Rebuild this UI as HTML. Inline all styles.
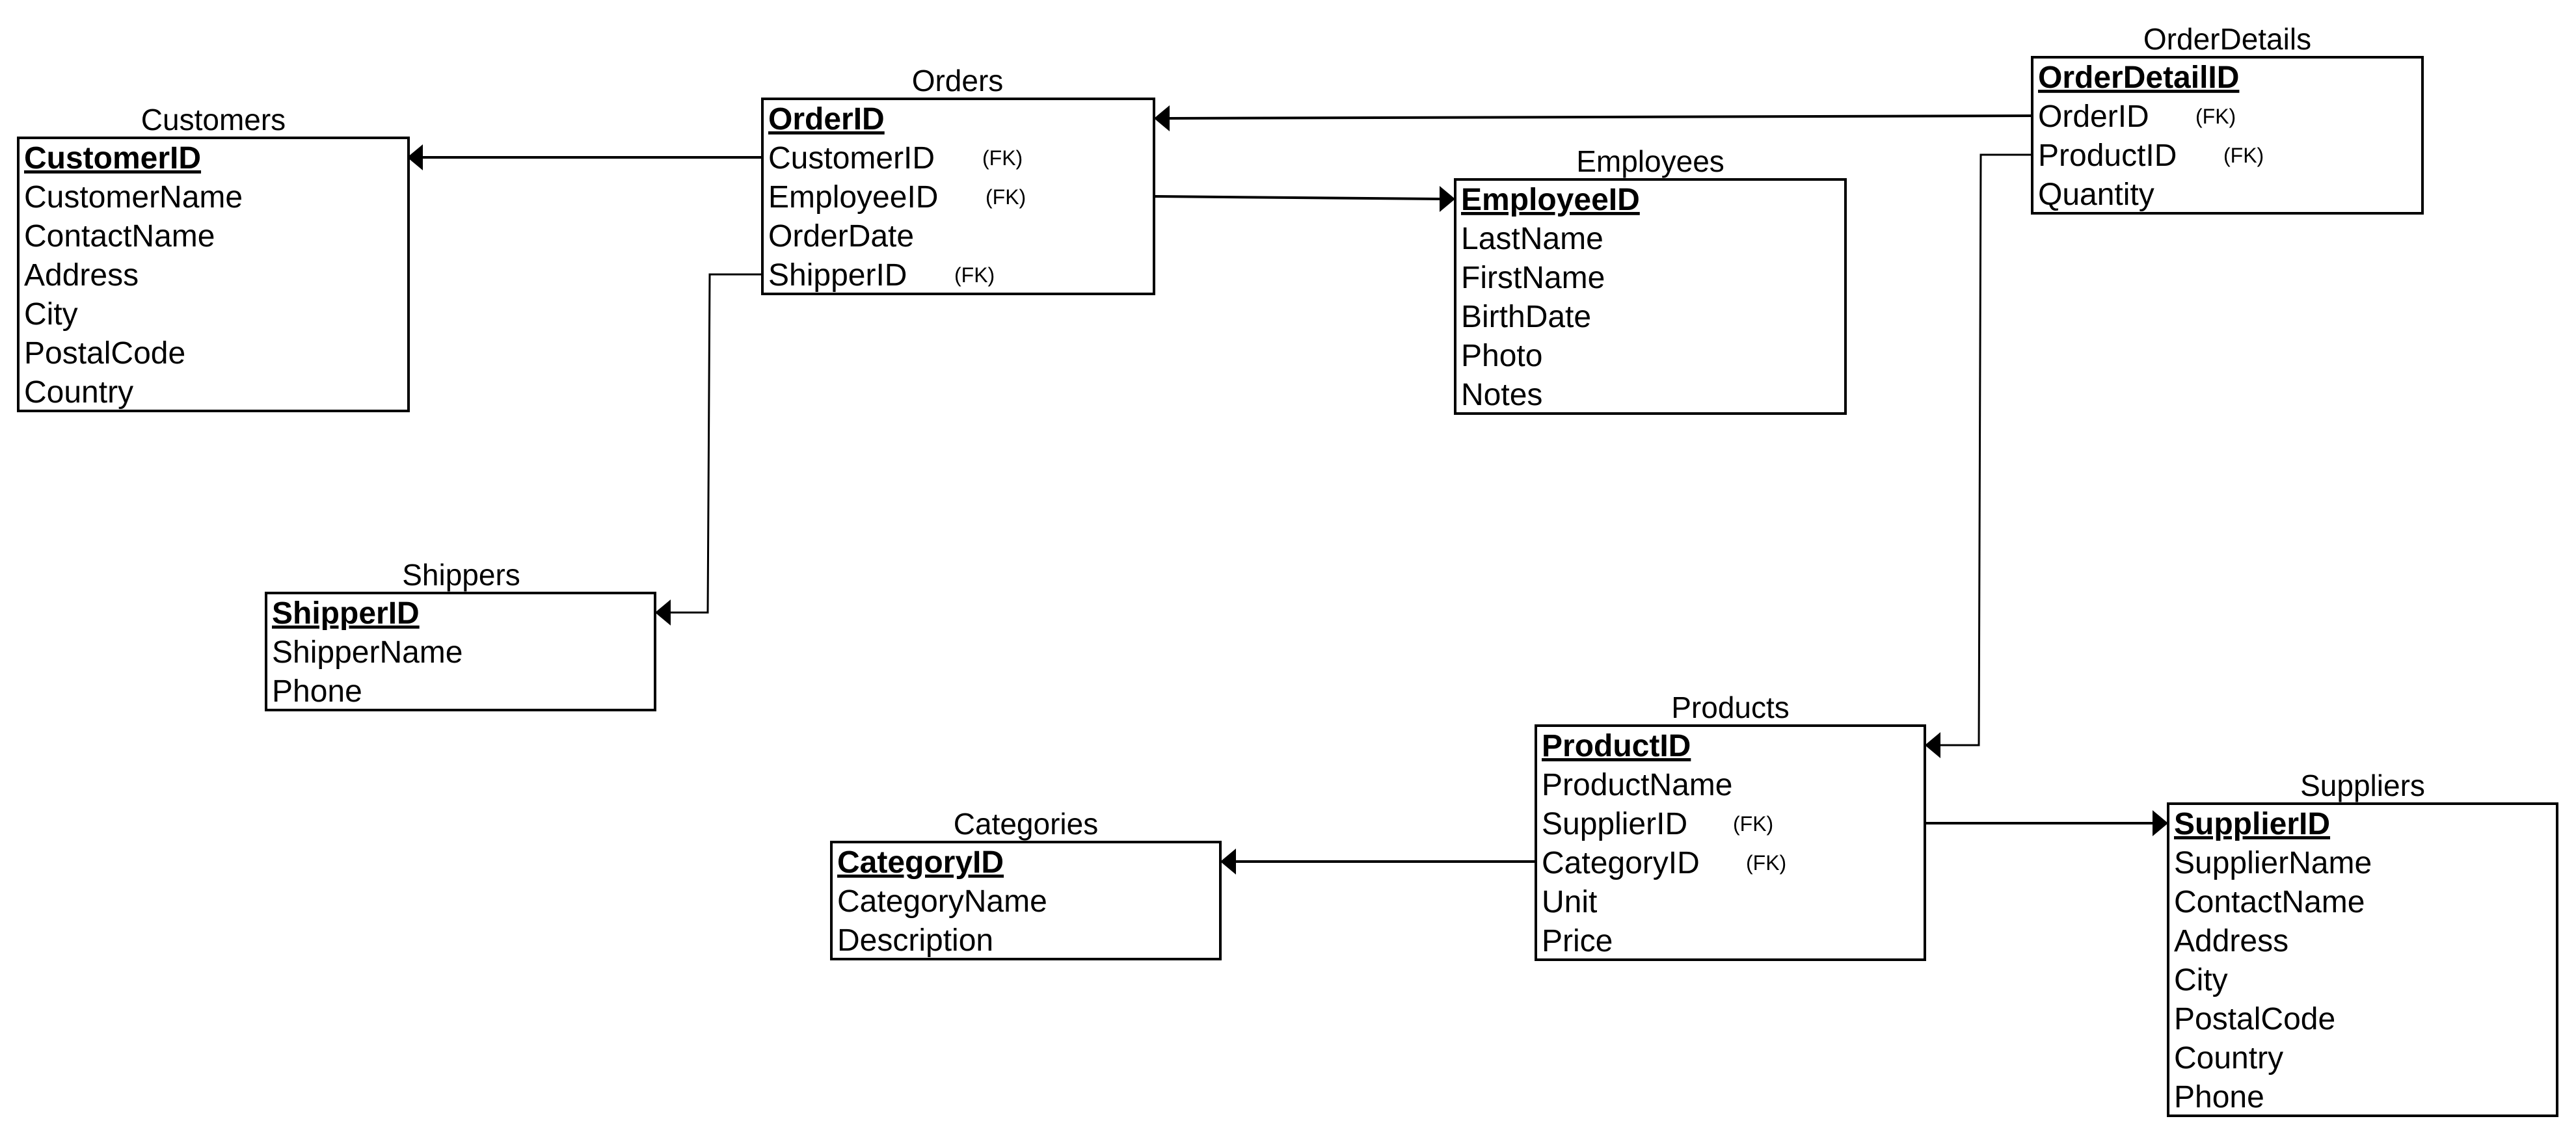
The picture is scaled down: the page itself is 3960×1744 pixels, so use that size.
<!DOCTYPE html>
<html><head><meta charset="utf-8"><style>
html,body{margin:0;padding:0;background:#fff;}
svg{display:block;}
text{font-family:"Liberation Sans",Arial,sans-serif;fill:#000;}
.t{font-size:46px;text-anchor:middle;}
.r{font-size:48px;}
.pk{font-size:48px;font-weight:bold;text-decoration:underline;}
.fk{font-size:32px;}
rect{fill:#fff;stroke:#000;stroke-width:4;}
.ln{fill:none;stroke:#000;stroke-width:4;}
.ln2{fill:none;stroke:#000;stroke-width:3;}
</style></head><body>
<svg width="3960" height="1744" viewBox="0 0 3960 1744" xmlns="http://www.w3.org/2000/svg">
<!-- connectors -->
<line class="ln" x1="1172" y1="242" x2="648" y2="242"/>
<polygon points="626,242 650,222 650,262"/>
<line class="ln" x1="3124" y1="178" x2="1796" y2="182"/>
<polygon points="1774,182 1798,162 1798,202"/>
<polyline class="ln" points="1774,302 2215,306"/>
<polygon points="2237,306 2213,286 2213,326"/>
<polyline class="ln2" points="1172,422 1091,422 1088,942 1029,942"/>
<polygon points="1007,942 1031,922 1031,962"/>
<polyline class="ln2" points="3124,238 3045,238 3042,1146 2981,1146"/>
<polygon points="2959,1146 2983,1126 2983,1166"/>
<line class="ln" x1="2361" y1="1325" x2="1898" y2="1325"/>
<polygon points="1876,1325 1900,1305 1900,1345"/>
<line class="ln" x1="2959" y1="1266" x2="3311" y2="1266"/>
<polygon points="3333,1266 3309,1246 3309,1286"/>

<!-- Customers -->
<text class="t" x="328" y="200">Customers</text>
<rect x="28" y="212" width="600" height="420"/>
<text class="pk" x="37" y="259">CustomerID</text>
<text class="r" x="37" y="319">CustomerName</text>
<text class="r" x="37" y="379">ContactName</text>
<text class="r" x="37" y="439">Address</text>
<text class="r" x="37" y="499">City</text>
<text class="r" x="37" y="559">PostalCode</text>
<text class="r" x="37" y="619">Country</text>

<!-- Orders -->
<text class="t" x="1472" y="140">Orders</text>
<rect x="1172" y="152" width="602" height="300"/>
<text class="pk" x="1181" y="199">OrderID</text>
<text class="r" x="1181" y="259">CustomerID</text><text class="fk" x="1510" y="254">(FK)</text>
<text class="r" x="1181" y="319">EmployeeID</text><text class="fk" x="1515" y="314">(FK)</text>
<text class="r" x="1181" y="379">OrderDate</text>
<text class="r" x="1181" y="439">ShipperID</text><text class="fk" x="1467" y="434">(FK)</text>

<!-- Employees -->
<text class="t" x="2537" y="264">Employees</text>
<rect x="2237" y="276" width="600" height="360"/>
<text class="pk" x="2246" y="323">EmployeeID</text>
<text class="r" x="2246" y="383">LastName</text>
<text class="r" x="2246" y="443">FirstName</text>
<text class="r" x="2246" y="503">BirthDate</text>
<text class="r" x="2246" y="563">Photo</text>
<text class="r" x="2246" y="623">Notes</text>

<!-- OrderDetails -->
<text class="t" x="3424" y="76">OrderDetails</text>
<rect x="3124" y="88" width="600" height="240"/>
<text class="pk" x="3133" y="135">OrderDetailID</text>
<text class="r" x="3133" y="195">OrderID</text><text class="fk" x="3375" y="190">(FK)</text>
<text class="r" x="3133" y="255">ProductID</text><text class="fk" x="3418" y="250">(FK)</text>
<text class="r" x="3133" y="315">Quantity</text>

<!-- Shippers -->
<text class="t" x="709" y="900">Shippers</text>
<rect x="409" y="912" width="598" height="180"/>
<text class="pk" x="418" y="959">ShipperID</text>
<text class="r" x="418" y="1019">ShipperName</text>
<text class="r" x="418" y="1079">Phone</text>

<!-- Categories -->
<text class="t" x="1577" y="1283">Categories</text>
<rect x="1278" y="1295" width="598" height="180"/>
<text class="pk" x="1287" y="1342">CategoryID</text>
<text class="r" x="1287" y="1402">CategoryName</text>
<text class="r" x="1287" y="1462">Description</text>

<!-- Products -->
<text class="t" x="2660" y="1104">Products</text>
<rect x="2361" y="1116" width="598" height="360"/>
<text class="pk" x="2370" y="1163">ProductID</text>
<text class="r" x="2370" y="1223">ProductName</text>
<text class="r" x="2370" y="1283">SupplierID</text><text class="fk" x="2664" y="1278">(FK)</text>
<text class="r" x="2370" y="1343">CategoryID</text><text class="fk" x="2684" y="1338">(FK)</text>
<text class="r" x="2370" y="1403">Unit</text>
<text class="r" x="2370" y="1463">Price</text>

<!-- Suppliers -->
<text class="t" x="3632" y="1224">Suppliers</text>
<rect x="3333" y="1236" width="598" height="480"/>
<text class="pk" x="3342" y="1283">SupplierID</text>
<text class="r" x="3342" y="1343">SupplierName</text>
<text class="r" x="3342" y="1403">ContactName</text>
<text class="r" x="3342" y="1463">Address</text>
<text class="r" x="3342" y="1523">City</text>
<text class="r" x="3342" y="1583">PostalCode</text>
<text class="r" x="3342" y="1643">Country</text>
<text class="r" x="3342" y="1703">Phone</text>
</svg>
</body></html>
